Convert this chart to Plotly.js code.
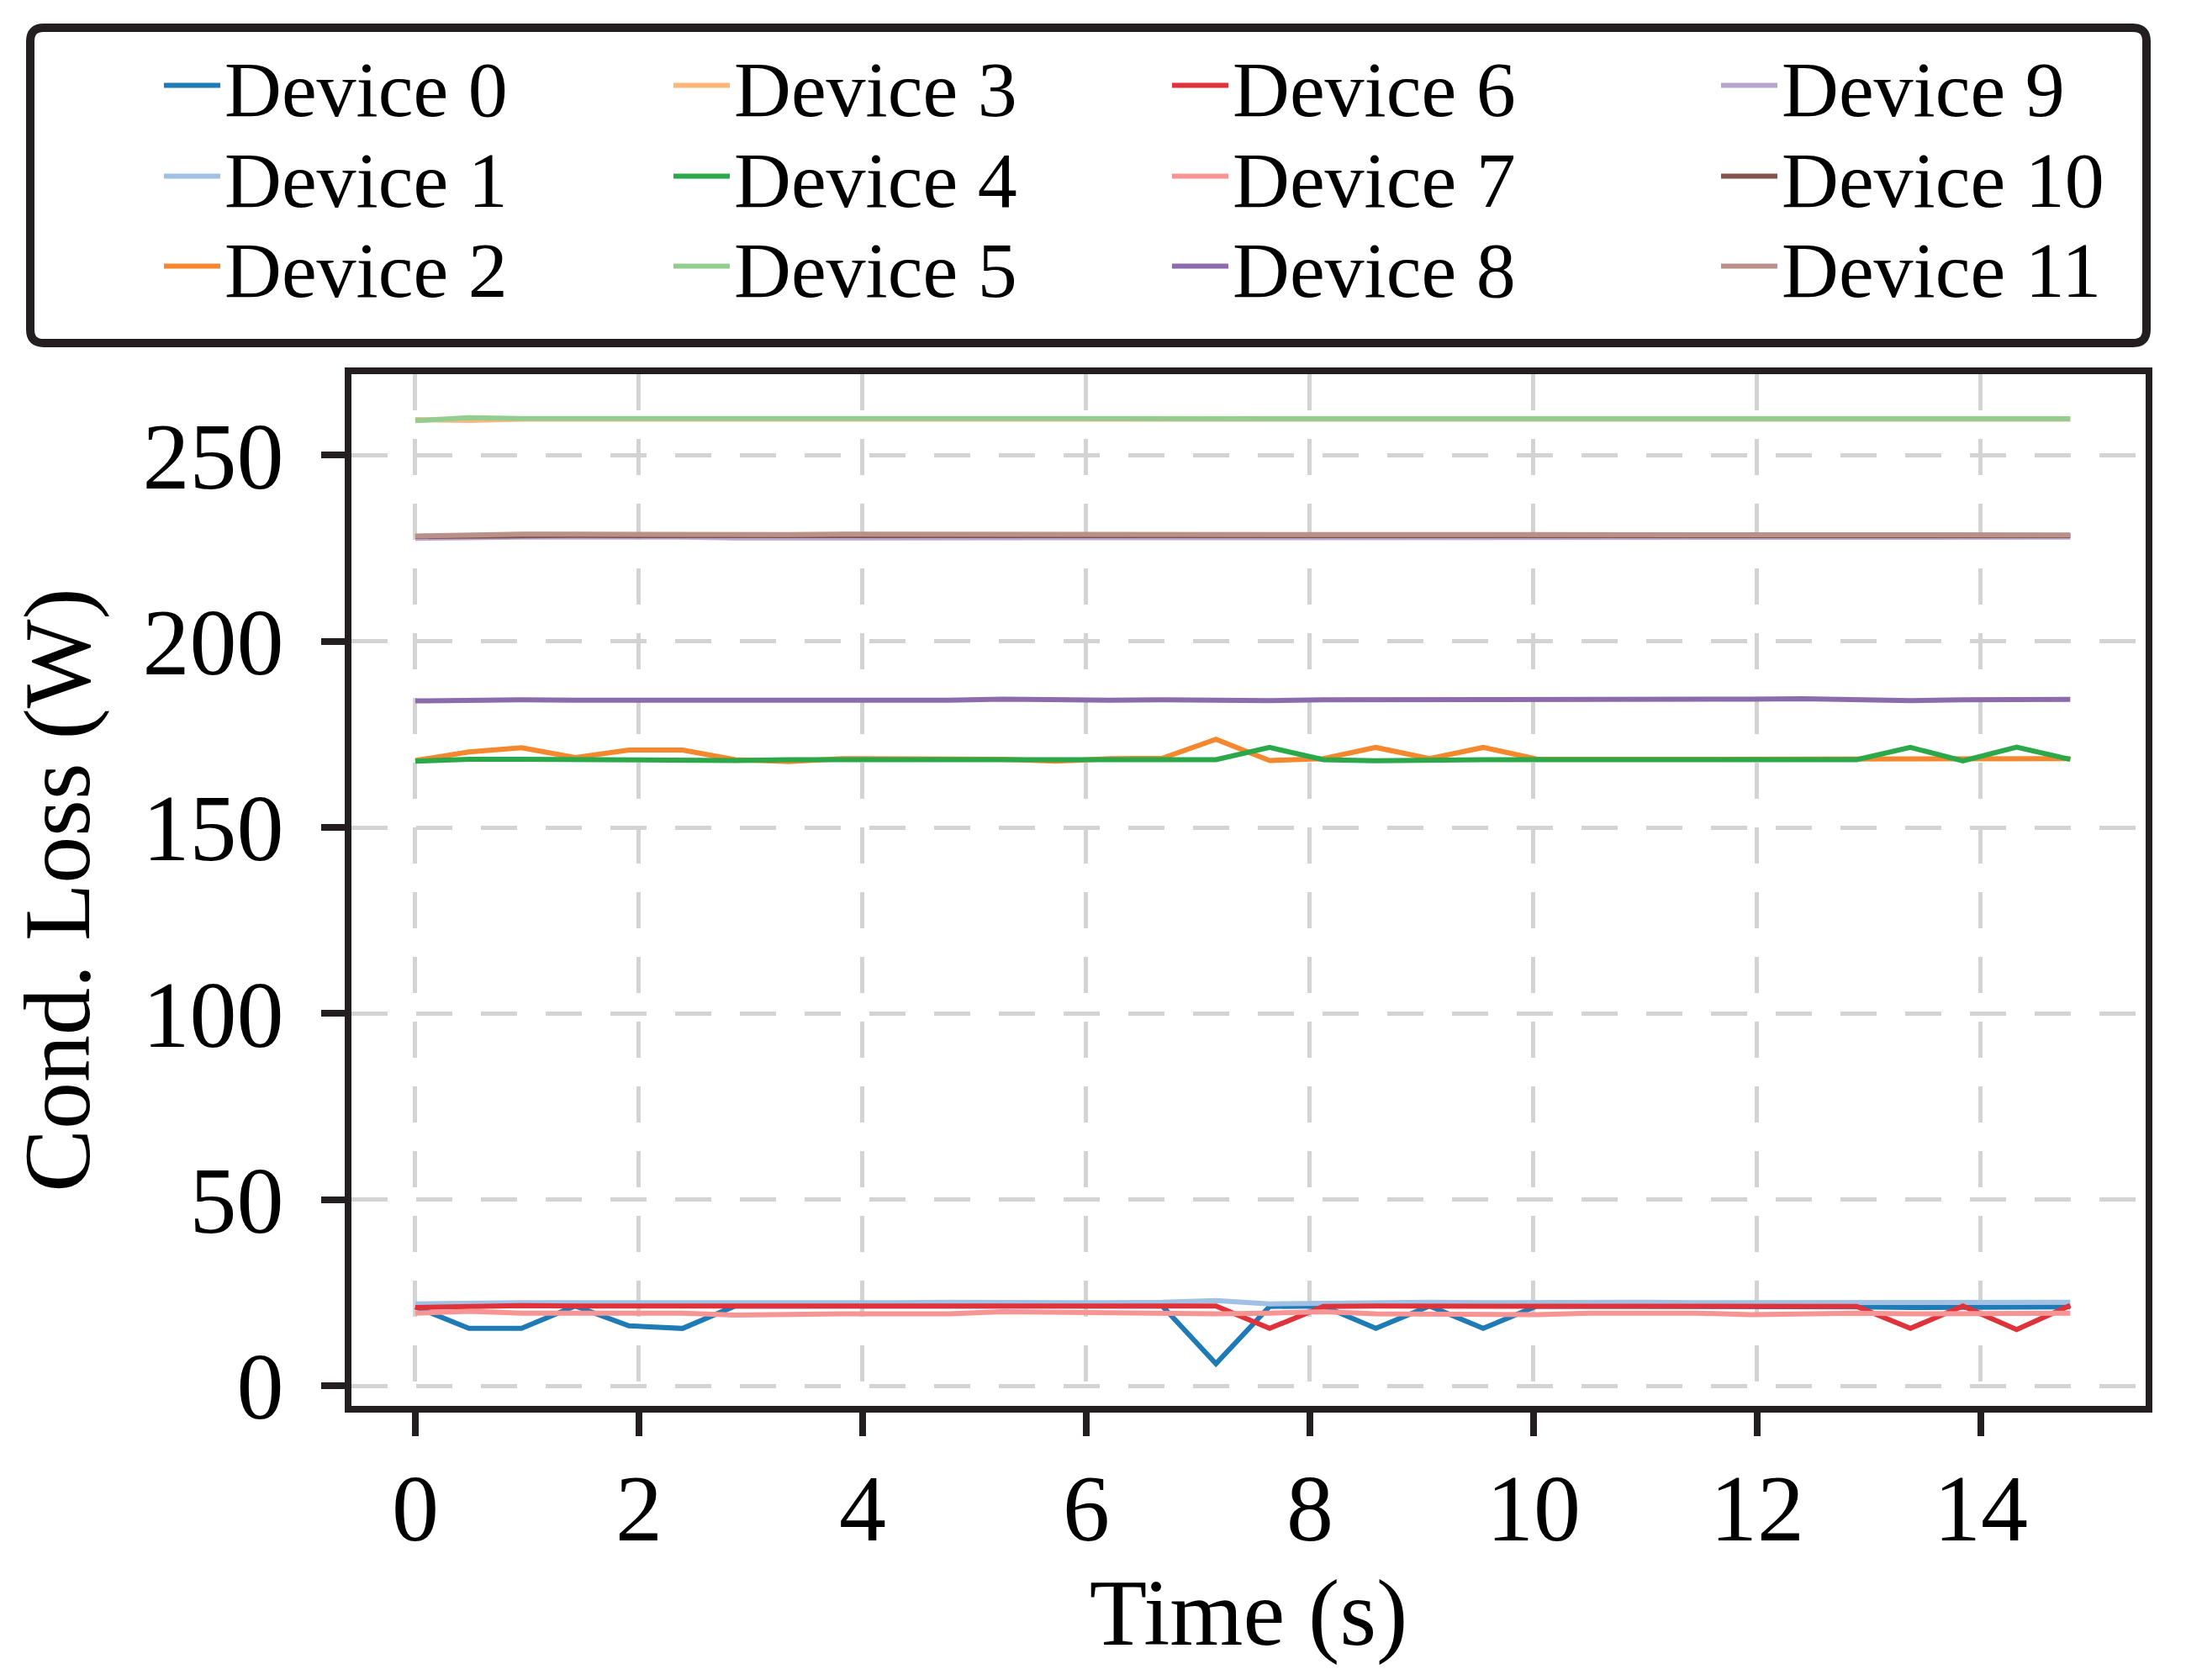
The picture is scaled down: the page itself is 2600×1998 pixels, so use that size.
<!DOCTYPE html>
<html>
<head>
<meta charset="utf-8">
<script src="https://cdn.plot.ly/plotly-3.0.1.min.js"></script>
<style>
  html, body { margin: 0; padding: 0; background: #fff; }
  #plot { width: 2600px; height: 1998px; }
</style>
</head>
<body>
<div id="plot"></div>
<script>
// sample times (s)
var time = [0.00, 0.48, 0.95, 1.43, 1.91, 2.39, 2.86, 3.34, 3.82, 4.30, 4.77, 5.25, 5.73, 6.21, 6.68, 7.16,
            7.64, 8.12, 8.59, 9.07, 9.55, 10.03, 10.50, 10.98, 11.46, 11.94, 12.41, 12.89, 13.37, 13.84, 14.32, 14.80];

var device0 = [21.2, 15.4, 15.4, 21.4, 16.1, 15.4, 21.4, 21.4, 21.4, 21.4, 21.4, 21.4, 21.4, 21.4, 21.4, 5.9,
               21.3, 21.4, 15.4, 21.4, 15.4, 21.4, 21.4, 21.4, 21.4, 21.4, 21.3, 21.2, 21.0, 21.0, 21.0, 21.2];
var device1 = [22.0, 22.3, 22.3, 22.3, 22.2, 22.4, 22.3, 22.3, 22.2, 22.3, 22.4, 22.3, 22.3, 22.3, 22.4, 22.9,
               22.0, 22.2, 22.3, 22.4, 22.3, 22.4, 22.5, 22.4, 22.3, 22.3, 22.4, 22.4, 22.4, 22.2, 22.1, 22.4];
var device2 = [168.0, 170.3, 171.4, 168.8, 170.8, 170.8, 168.2, 167.7, 168.5, 168.5, 168.3, 168.3, 167.8, 168.5, 168.6, 173.7,
               168.0, 168.5, 171.5, 168.5, 171.5, 168.4, 168.3, 168.3, 168.4, 168.3, 168.3, 168.4, 168.5, 168.5, 168.5, 168.5];
var device3 = [259.6, 259.4, 259.7, 259.7, 259.4, 259.5, 259.7, 259.7, 259.7, 259.7, 259.7, 259.7, 259.7, 259.7, 259.7, 259.4,
               259.7, 259.7, 259.5, 259.7, 259.5, 259.7, 259.7, 259.7, 259.7, 259.7, 259.7, 259.7, 259.7, 259.7, 259.7, 259.7];
var device4 = [167.8, 168.3, 168.3, 168.2, 168.3, 168.3, 168.0, 168.2, 168.2, 168.3, 168.2, 168.2, 168.2, 168.2, 168.2, 168.2,
               171.5, 168.2, 167.9, 168.2, 168.2, 168.2, 168.2, 168.2, 168.3, 168.2, 168.2, 168.2, 171.5, 167.9, 171.6, 168.3];
var device5 = [259.3, 260.1, 259.9, 259.9, 260.1, 259.9, 259.9, 259.9, 259.9, 259.9, 259.9, 259.9, 259.9, 259.9, 259.9, 260.0,
               259.9, 259.9, 259.9, 259.9, 259.9, 260.1, 259.8, 259.8, 259.8, 259.8, 259.8, 259.8, 259.8, 259.8, 259.8, 259.8];
var device6 = [21.0, 21.4, 21.5, 21.4, 21.5, 21.4, 21.4, 21.4, 21.5, 21.5, 21.4, 21.4, 21.4, 21.4, 21.4, 21.4,
               15.4, 21.3, 21.4, 21.4, 21.4, 21.4, 21.4, 21.4, 21.5, 21.4, 21.4, 21.3, 15.4, 21.4, 15.1, 21.6];
var device7 = [19.5, 20.0, 19.5, 19.5, 19.5, 19.5, 19.0, 19.3, 19.3, 19.3, 19.3, 19.9, 19.7, 19.5, 19.5, 19.3,
               19.5, 19.9, 19.3, 19.3, 19.3, 19.1, 19.5, 19.5, 19.5, 19.1, 19.3, 19.5, 19.3, 19.3, 19.5, 19.5];
var device8 = [184.0, 184.2, 184.3, 184.2, 184.2, 184.2, 184.2, 184.2, 184.2, 184.0, 184.2, 184.5, 184.2, 184.2, 184.3, 184.1,
               184.1, 184.3, 184.3, 184.4, 184.2, 184.5, 184.4, 184.4, 184.4, 184.5, 184.6, 184.4, 184.1, 184.3, 184.3, 184.4];
var device9 = [227.7, 228.0, 228.0, 228.0, 228.1, 228.0, 227.8, 227.8, 228.0, 227.8, 227.8, 228.0, 228.0, 227.8, 228.0, 228.0,
               228.0, 228.0, 227.8, 228.0, 228.0, 227.8, 228.0, 228.0, 227.8, 228.0, 228.0, 227.8, 228.0, 227.8, 228.0, 228.0];
var device10 = [228.2, 228.4, 228.5, 228.5, 228.4, 228.4, 228.4, 228.4, 228.5, 228.5, 228.5, 228.5, 228.5, 228.5, 228.5, 228.4,
                228.5, 228.4, 228.5, 228.5, 228.5, 228.5, 228.5, 228.5, 228.5, 228.5, 228.5, 228.5, 228.4, 228.4, 228.5, 228.4];
var device11 = [228.3, 228.6, 228.8, 228.8, 228.7, 228.7, 228.7, 228.7, 228.8, 228.8, 228.8, 228.8, 228.8, 228.8, 228.8, 228.7,
                228.8, 228.7, 228.8, 228.8, 228.8, 228.8, 228.8, 228.8, 228.8, 228.8, 228.8, 228.8, 228.7, 228.7, 228.8, 228.6];

var deviceNames = ['Device 0', 'Device 1', 'Device 2', 'Device 3', 'Device 4', 'Device 5',
                   'Device 6', 'Device 7', 'Device 8', 'Device 9', 'Device 10', 'Device 11'];
var xTicks = [0, 2, 4, 6, 8, 10, 12, 14];
var yTicks = [0, 50, 100, 150, 200, 250];

var deviceData = [device0, device1, device2, device3, device4, device5,
                  device6, device7, device8, device9, device10, device11];
var colors = ['#1f7bb6', '#a0c0e4', '#f5872f', '#fdb77a', '#2ba84a', '#94cd90',
              '#e0323a', '#f69594', '#8a6bab', '#b8a5ce', '#845248', '#b99189'];

var W = 2600, H = 1998;
var M = {l: 418, r: 48, t: 445, b: 326};
// pixel -> paper fraction
function px2x(px) { return (px - M.l) / (W - M.l - M.r); }
function px2y(py) { return (H - M.b - py) / (H - M.t - M.b); }

var FONT = 'Liberation Serif, Times New Roman, serif';
var INK = '#231f20';

// one legend per entry so the 4x3 grid sits where the reference has it
function legendId(i) { return i === 0 ? 'legend' : 'legend' + (i + 1); }

var traces = deviceNames.map(function(name, i) {
    return {
        x: time,
        y: deviceData[i],
        name: name,
        mode: 'lines',
        showlegend: true,
        line: {color: colors[i], width: 6},
        legend: legendId(i)
    };
});

function roundedBox(x0, y0, x1, y1, r) {
    var X = px2x, Y = px2y;
    return 'M' + X(x0 + r) + ',' + Y(y0) +
        ' L' + X(x1 - r) + ',' + Y(y0) +
        ' Q' + X(x1) + ',' + Y(y0) + ' ' + X(x1) + ',' + Y(y0 + r) +
        ' L' + X(x1) + ',' + Y(y1 - r) +
        ' Q' + X(x1) + ',' + Y(y1) + ' ' + X(x1 - r) + ',' + Y(y1) +
        ' L' + X(x0 + r) + ',' + Y(y1) +
        ' Q' + X(x0) + ',' + Y(y1) + ' ' + X(x0) + ',' + Y(y1 - r) +
        ' L' + X(x0) + ',' + Y(y0 + r) +
        ' Q' + X(x0) + ',' + Y(y0) + ' ' + X(x0 + r) + ',' + Y(y0) + ' Z';
}

var legendColX = [267, 873, 1466, 2119];
var legendRowY = [102, 210, 317];
function legendCfg(i) {
    return {
        visible: true,
        x: px2x(legendColX[Math.floor(i / 3)] - 77),
        xanchor: 'left',
        y: px2y(legendRowY[i % 3]),
        yanchor: 'middle',
        orientation: 'v',
        itemwidth: 67,
        bgcolor: 'rgba(0,0,0,0)',
        borderwidth: 0,
        font: {family: FONT, size: 94, color: '#000'}
    };
}

var axisCommon = {
    showline: true,
    mirror: true,
    linecolor: INK,
    linewidth: 8,
    ticks: 'outside',
    ticklen: 28,
    tickwidth: 8,
    tickcolor: INK,
    showgrid: true,
    gridcolor: '#d3d3d3',
    gridwidth: 5,
    griddash: '43px,34px',
    zeroline: false,
    tickfont: {family: FONT, size: 112, color: '#000'}
};

var layout = {
    width: W,
    height: H,
    margin: M,
    showlegend: true,
    paper_bgcolor: '#fff',
    plot_bgcolor: '#fff',
    font: {family: FONT, color: '#000'},
    xaxis: Object.assign({}, axisCommon, {
        range: [-0.571, 15.474],
        tickvals: xTicks,
        ticktext: xTicks.map(String),
        ticklabelstandoff: -10,
        title: {text: 'Time (s)', font: {family: FONT, size: 112, color: '#000'}, standoff: 0}
    }),
    yaxis: Object.assign({}, axisCommon, {
        range: [-5.42, 271.8],
        tickvals: yTicks,
        ticktext: yTicks.map(String),
        ticklabelstandoff: 22,
        title: {text: 'Cond. Loss (W)', font: {family: FONT, size: 112, color: '#000'}, standoff: 28}
    }),
    shapes: [{
        type: 'path',
        xref: 'paper',
        yref: 'paper',
        path: roundedBox(36, 33, 2553, 408, 16),
        line: {color: INK, width: 10},
        fillcolor: 'rgba(0,0,0,0)'
    }]
};
deviceNames.forEach(function(name, i) { layout[legendId(i)] = legendCfg(i); });
layout.margin.autoexpand = false;

Plotly.newPlot('plot', traces, layout, {displayModeBar: false, staticPlot: true});
</script>
</body>
</html>
